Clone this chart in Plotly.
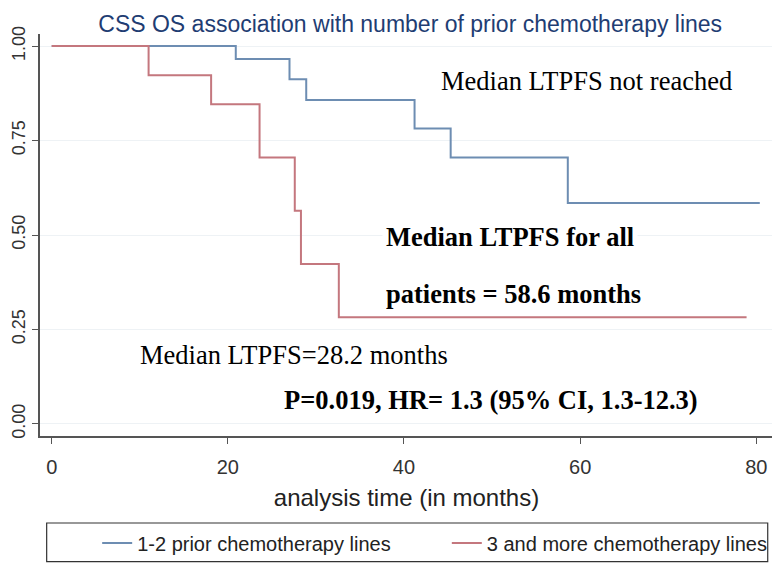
import plotly.graph_objects as go

# Kaplan-Meier step curves
blue_name = '1-2 prior chemotherapy lines'
blue_t = [0, 20.9, 27.0, 28.9, 41.2, 45.3, 58.6, 80.4]
blue_s = [1.0, 0.966, 0.912, 0.857, 0.782, 0.705, 0.585, 0.585]

red_name = '3 and more chemotherapy lines'
red_t = [0, 11.0, 18.1, 23.6, 27.6, 28.3, 32.6, 78.9]
red_s = [1.0, 0.923, 0.846, 0.705, 0.564, 0.423, 0.282, 0.282]

x_ticks = [0, 20, 40, 60, 80]
y_ticks = [0, 0.25, 0.5, 0.75, 1.0]

SANS = 'Liberation Sans, Arial, sans-serif'
SERIF = 'Liberation Serif, Times New Roman, serif'

fig = go.Figure()
fig.add_trace(go.Scatter(x=blue_t, y=blue_s, name=blue_name, mode='lines',
                         legend='legend',
                         line=dict(color='#6d8db2', width=2, shape='hv')))
fig.add_trace(go.Scatter(x=red_t, y=red_s, name=red_name, mode='lines',
                         legend='legend2',
                         line=dict(color='#c4777e', width=2, shape='hv')))

notes = [
    ('Median LTPFS not reached', 43.7, 0.907, False),
    ('Median LTPFS for all', 37.5, 0.495, True),
    ('patients = 58.6 months', 37.5, 0.344, True),
    ('Median LTPFS=28.2 months', 9.6, 0.183, False),
    ('P=0.019, HR= 1.3 (95% CI, 1.3-12.3)', 25.9, 0.063, True),
]
for text, x, y, bold in notes:
    fig.add_annotation(
        x=x, y=y, xref='x', yref='y', xanchor='left', yanchor='middle',
        text='<b>%s</b>' % text if bold else text, showarrow=False,
        bgcolor='white', borderpad=3,
        font=dict(family=SERIF, size=26.5, color='black'))

# legend frame
fig.add_shape(type='rect', xref='paper', yref='paper',
              x0=0.0091, x1=0.9928, y0=-0.3127, y1=-0.2164,
              line=dict(color='#333333', width=1.2), fillcolor='rgba(0,0,0,0)')

leg = dict(orientation='h', xanchor='left', y=-0.266, yanchor='middle',
           font=dict(family=SANS, size=20, color='#222222'),
           bgcolor='rgba(0,0,0,0)', borderwidth=0)

# page body adds an 8px margin, so the figure is 8px smaller each way
fig.update_layout(
    width=772, height=558,
    margin=dict(l=32, r=7, t=26, b=130, autoexpand=False),
    paper_bgcolor='white', plot_bgcolor='white',
    title=dict(text='CSS OS association with number of prior chemotherapy lines',
               x=0.521, xref='container', y=0.986, yref='container',
               xanchor='center', yanchor='top',
               font=dict(family=SANS, size=23, color='#1f3d73')),
    legend=dict(leg, x=0.078),
    legend2=dict(leg, x=0.555),
    showlegend=True,
)

fig.update_xaxes(
    range=[-1.33, 81.9], tickvals=x_ticks, showgrid=False, zeroline=False,
    automargin=False,
    showline=True, linecolor='#555555', linewidth=1.5,
    ticks='outside', ticklen=6, tickcolor='#555555', ticklabelstandoff=6,
    tickfont=dict(family=SANS, size=20, color='#333333'),
    title=dict(text='analysis time (in months)', standoff=12,
               font=dict(family=SANS, size=24, color='#222222')))

fig.update_yaxes(
    range=[-0.032, 1.032], tickvals=y_ticks, tickformat='.2f', tickangle=-90,
    automargin=False,
    showgrid=True, gridcolor='#eef2f5', gridwidth=1, zeroline=False,
    showline=True, linecolor='#555555', linewidth=1.5,
    ticks='outside', ticklen=6, tickcolor='#555555', ticklabelstandoff=0,
    tickfont=dict(family=SANS, size=18, color='#333333'))

fig.write_html('out.html')
